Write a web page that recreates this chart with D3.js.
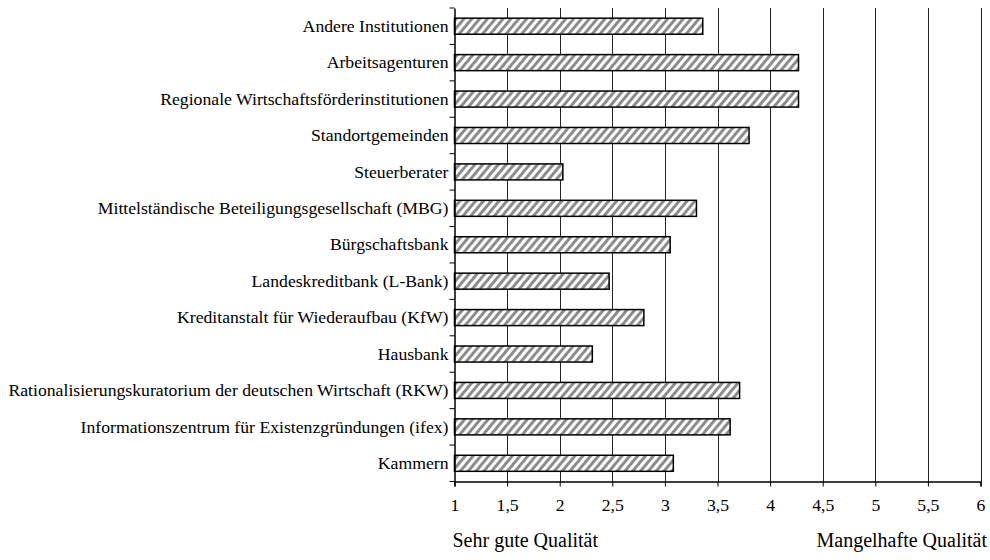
<!DOCTYPE html>
<html>
<head>
<meta charset="utf-8">
<script src="https://cdn.jsdelivr.net/npm/d3@7"></script>
<style>
  html, body { margin: 0; padding: 0; background: #fff; }
  svg { display: block; }
</style>
</head>
<body>
<svg id="chart" width="990" height="560"></svg>
<script>
// Institutions, top to bottom
const categories = [
  "Andere Institutionen",
  "Arbeitsagenturen",
  "Regionale Wirtschaftsförderinstitutionen",
  "Standortgemeinden",
  "Steuerberater",
  "Mittelständische Beteiligungsgesellschaft (MBG)",
  "Bürgschaftsbank",
  "Landeskreditbank (L-Bank)",
  "Kreditanstalt für Wiederaufbau (KfW)",
  "Hausbank",
  "Rationalisierungskuratorium der deutschen Wirtschaft (RKW)",
  "Informationszentrum für Existenzgründungen (ifex)",
  "Kammern"
];
// Average quality rating (1 = sehr gut, 6 = mangelhaft)
const ratings = [3.36, 4.27, 4.27, 3.80, 2.03, 3.30, 3.05, 2.47, 2.80, 2.31, 3.71, 3.62, 3.08];
const xTicks = [1, 1.5, 2, 2.5, 3, 3.5, 4, 4.5, 5, 5.5, 6];
const scaleEndLabels = ["Sehr gute Qualität", "Mangelhafte Qualität"];

const svg = d3.select("#chart");
const plotLeft = 454.5, plotRight = 980.5, plotTop = 8, plotBottom = 481.5;
const fontFamily = "Liberation Serif";
const fontSize = 17.7;
const endLabelSize = 20;

const x = d3.scaleLinear().domain([1, 6]).range([plotLeft, plotRight]);
const y = d3.scaleBand().domain(categories).range([plotTop, plotBottom]).paddingInner(0.56).paddingOuter(0.28);

// diagonal hatch fill
const defs = svg.append("defs");
const pat = defs.append("pattern")
  .attr("id", "hatch")
  .attr("patternUnits", "userSpaceOnUse")
  .attr("width", 6).attr("height", 6)
  .attr("patternTransform", "rotate(40)");
pat.append("rect").attr("width", 6).attr("height", 6).attr("fill", "#fff");
pat.append("rect").attr("x", 0).attr("width", 3).attr("height", 6).attr("fill", "#8c8c8c");

// vertical gridlines
svg.append("g")
  .selectAll("line")
  .data(xTicks.slice(1))
  .join("line")
  .attr("x1", d => Math.round(x(d)) + 0.5)
  .attr("x2", d => Math.round(x(d)) + 0.5)
  .attr("y1", plotTop)
  .attr("y2", plotBottom)
  .attr("stroke", "#222")
  .attr("stroke-width", 1);

// bars
svg.append("g")
  .selectAll("rect")
  .data(categories)
  .join("rect")
  .attr("x", x(1))
  .attr("y", d => y(d))
  .attr("width", (d, i) => x(ratings[i]) - x(1))
  .attr("height", y.bandwidth())
  .attr("fill", "url(#hatch)")
  .attr("stroke", "#000")
  .attr("stroke-width", 1.5);

// x axis
const xAxis = d3.axisBottom(x)
  .tickValues(xTicks)
  .tickSize(5)
  .tickPadding(12)
  .tickFormat(d => String(d).replace(".", ","));
const gx = svg.append("g").attr("transform", `translate(0,${plotBottom})`).call(xAxis);
gx.select(".domain").attr("stroke", "#000").attr("stroke-width", 1.5);
gx.selectAll(".tick line").attr("stroke", "#000");
gx.selectAll("text")
  .style("font-family", fontFamily).style("font-size", fontSize + "px").attr("fill", "#000");

// y axis with ticks at band boundaries
const yAxis = d3.axisLeft(y).tickSize(0).tickPadding(6);
const gy = svg.append("g").attr("transform", `translate(${plotLeft},0)`).call(yAxis);
gy.select(".domain").attr("stroke", "#000").attr("stroke-width", 1.5);
gy.selectAll("text")
  .style("font-family", fontFamily).style("font-size", fontSize + "px").attr("fill", "#000");

const bounds = d3.range(categories.length + 1).map(i => plotTop + i * (plotBottom - plotTop) / categories.length);
svg.append("g")
  .selectAll("line")
  .data(bounds)
  .join("line")
  .attr("x1", plotLeft - 5)
  .attr("x2", plotLeft)
  .attr("y1", d => d)
  .attr("y2", d => d)
  .attr("stroke", "#000");

// scale end descriptions
svg.append("text")
  .attr("x", plotLeft - 2)
  .attr("y", 547)
  .style("font-family", fontFamily).style("font-size", endLabelSize + "px")
  .text(scaleEndLabels[0]);
svg.append("text")
  .attr("x", 987)
  .attr("y", 547)
  .attr("text-anchor", "end")
  .style("font-family", fontFamily).style("font-size", endLabelSize + "px")
  .text(scaleEndLabels[1]);
</script>
</body>
</html>
